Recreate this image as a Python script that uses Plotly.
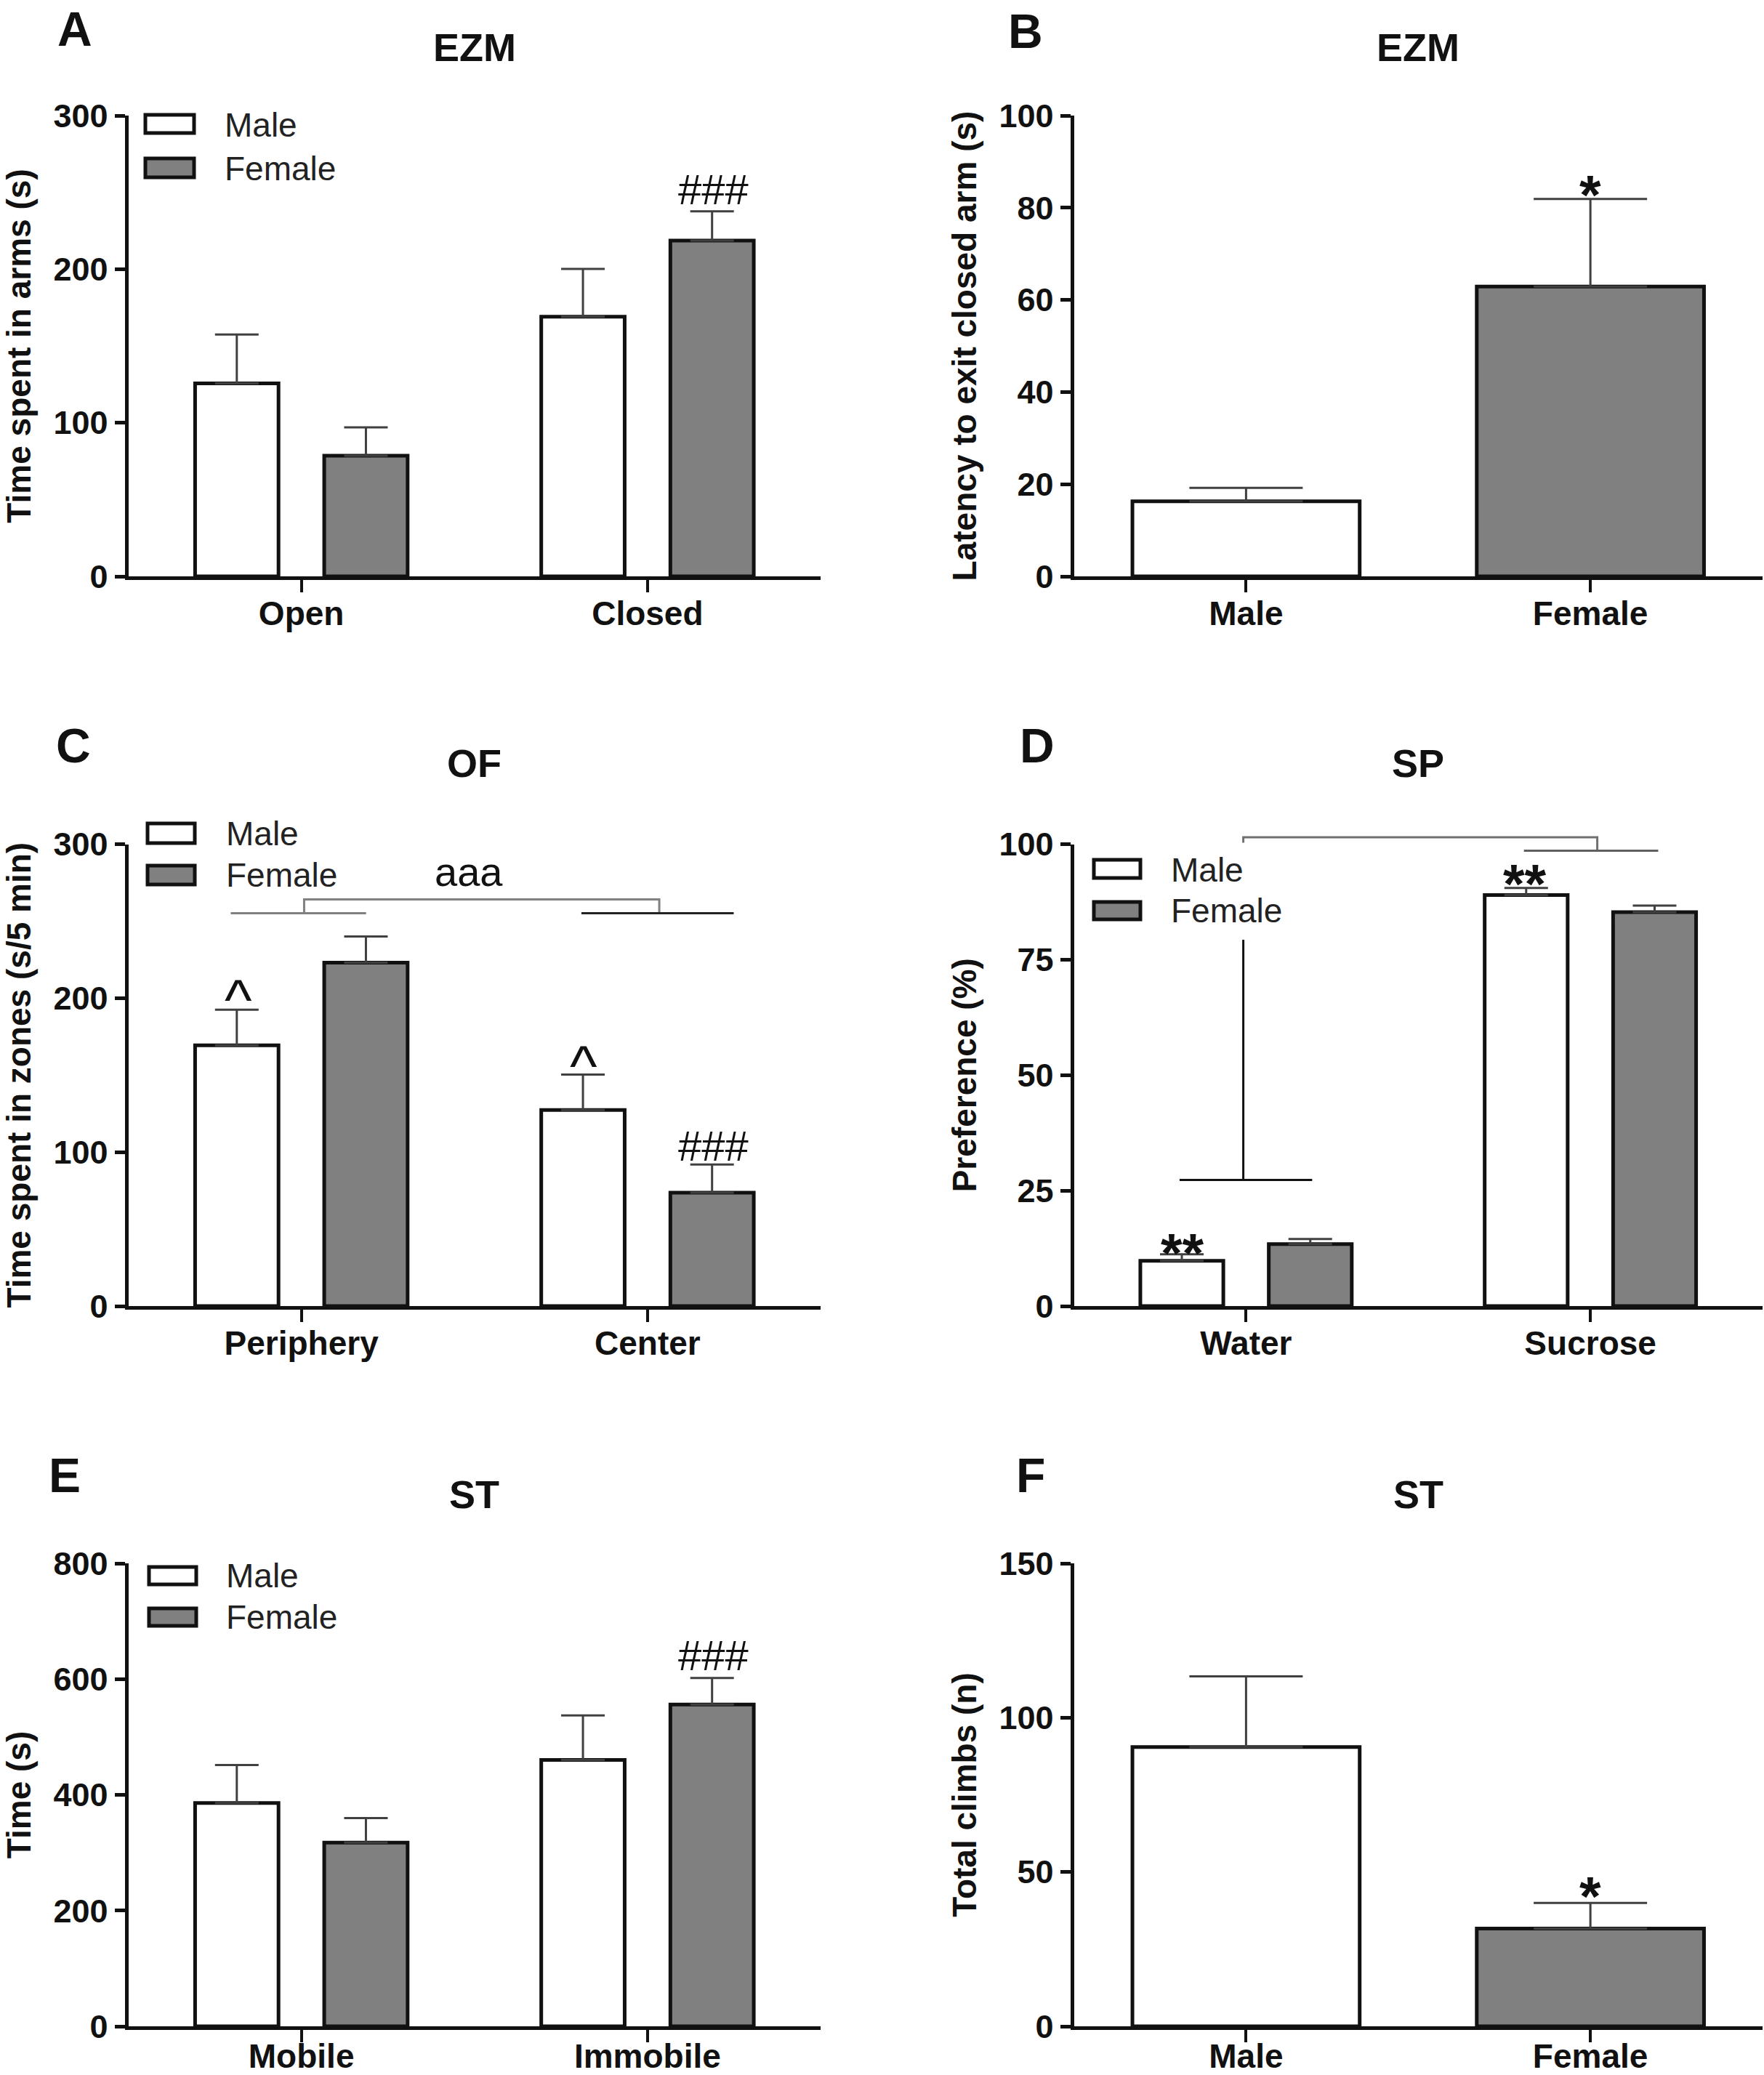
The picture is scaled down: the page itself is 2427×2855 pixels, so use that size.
import plotly.graph_objects as go

# ------------------------------------------------------------------ data
cat_A = ["Open", "Closed"]
male_A = [125.6, 169.0]
male_A_err = [31.8, 31.2]
female_A = [78.6, 218.6]
female_A_err = [18.4, 19.0]

cat_B = ["Male", "Female"]
val_B = [16.3, 62.9]
err_B = [2.9, 19.0]

cat_C = ["Periphery", "Center"]
male_C = [169.4, 127.3]
male_C_err = [23.1, 23.1]
female_C = [223.0, 73.7]
female_C_err = [17.1, 18.2]

cat_D = ["Water", "Sucrose"]
male_D = [9.8, 89.0]
male_D_err = [1.4, 1.5]
female_D = [13.4, 85.3]
female_D_err = [1.1, 1.4]

cat_E = ["Mobile", "Immobile"]
male_E = [385.9, 460.3]
male_E_err = [65.6, 76.8]
female_E = [317.5, 556.1]
female_E_err = [42.3, 45.8]

cat_F = ["Male", "Female"]
val_F = [90.5, 31.7]
err_F = [22.9, 8.3]

legend_labels = ["Male", "Female"]

# significance marks: (text, x position in category units, y value)
sig_A = [("###", 1.19, 252.0)]
sig_B = [("*", 1.0, 85.5)]
sig_C = [("^", -0.182, 205.8), ("^", 0.815, 162.6), ("###", 1.19, 104.2), ("aaa", 0.484, 279.6)]
sig_D = [("**", -0.185, 14.3), ("**", 0.81, 94.1), ("aaa", 0.52, 106.8)]
sig_E = [("###", 1.19, 641.4)]
sig_F = [("*", 1.0, 46.3)]

# comparison brackets: (x list, y list, colour)
brk_C = [
    ([-0.204, 0.187], [255.1, 255.1], "#808080"),
    ([0.008, 0.008, 1.034, 1.034], [255.1, 264.1, 264.1, 255.1], "#808080"),
    ([0.809, 1.249], [255.1, 255.1], "#222222"),
]
brk_D = [
    ([-0.008, -0.008, 1.02, 1.02], [100.3, 101.5, 101.5, 98.6], "#707070"),
    ([0.807, 1.197], [98.6, 98.6], "#606060"),
    ([-0.008, -0.008], [27.3, 79.3], "#111111"),
    ([-0.193, 0.192], [27.3, 27.3], "#111111"),
]

# ------------------------------------------------------------------ style
W, H = 2427, 2855
FONT = "Liberation Sans, Arial, Helvetica, sans-serif"
INK = "#111111"
GRAY = "#808080"
ERRC = "#404040"

col_x = [(176.5, 1129.0), (1477.5, 2425.0)]
row_y = [(159.0, 793.0), (1161.5, 1797.0), (2151.0, 2788.0)]


def px_x(p):
    return p / W


def px_y(p):
    return 1 - p / H


panels = [
    dict(n=1, col=0, row=0, cats=cat_A, grouped=True,
         series=[(male_A, male_A_err, "white"), (female_A, female_A_err, GRAY)],
         ytitle="Time spent in arms (s)", yr=[0, 300], dt=100, title="EZM",
         ty=64.6, letter="A", lxy=(103, 40), sig=sig_A, brk=[],
         legend=dict(sx=(200, 267), rows=[(158, 183, 172), (218, 244, 232)], tx=307)),
    dict(n=2, col=1, row=0, cats=cat_B, grouped=False,
         series=[(val_B, err_B, ["white", GRAY])],
         ytitle="Latency to exit closed arm (s)", yr=[0, 100], dt=20, title="EZM",
         ty=64.6, letter="B", lxy=(1411, 43), sig=sig_B, brk=[], legend=None),
    dict(n=3, col=0, row=1, cats=cat_C, grouped=True,
         series=[(male_C, male_C_err, "white"), (female_C, female_C_err, GRAY)],
         ytitle="Time spent in zones (s/5 min)", yr=[0, 300], dt=100, title="OF",
         ty=1050, letter="C", lxy=(101, 1026), sig=sig_C, brk=brk_C,
         legend=dict(sx=(203, 268), rows=[(1133, 1160, 1147), (1191, 1217, 1204)], tx=309)),
    dict(n=4, col=1, row=1, cats=cat_D, grouped=True,
         series=[(male_D, male_D_err, "white"), (female_D, female_D_err, GRAY)],
         ytitle="Preference (%)", yr=[0, 100], dt=25, title="SP",
         ty=1050, letter="D", lxy=(1427, 1026), sig=sig_D, brk=brk_D,
         legend=dict(sx=(1505, 1569), rows=[(1183, 1208, 1197), (1241, 1265, 1253)], tx=1609)),
    dict(n=5, col=0, row=2, cats=cat_E, grouped=True,
         series=[(male_E, male_E_err, "white"), (female_E, female_E_err, GRAY)],
         ytitle="Time (s)", yr=[0, 800], dt=200, title="ST",
         ty=2056, letter="E", lxy=(89, 2030), sig=sig_E, brk=[],
         legend=dict(sx=(205, 270), rows=[(2156, 2180, 2168), (2213, 2237, 2225)], tx=309)),
    dict(n=6, col=1, row=2, cats=cat_F, grouped=False,
         series=[(val_F, err_F, ["white", GRAY])],
         ytitle="Total climbs (n)", yr=[0, 150], dt=50, title="ST",
         ty=2056, letter="F", lxy=(1418, 2030), sig=sig_F, brk=[], legend=None),
]

sig_style = {
    "*": dict(size=76, yshift=-17, weight="bold"),
    "**": dict(size=76, yshift=-17, weight="bold"),
    "^": dict(size=80, yshift=-14, weight="normal"),
    "###": dict(size=58, yshift=0, weight="normal"),
    "aaa": dict(size=56, yshift=5, weight="normal"),
}

fig = go.Figure()
layout = {}
annotations = []
shapes = []

for p in panels:
    n = p["n"]
    sfx = "" if n == 1 else str(n)
    xref, yref = "x" + sfx, "y" + sfx
    xd = col_x[p["col"]]
    yd = row_y[p["row"]]
    xpos = list(range(len(p["cats"])))

    layout["xaxis" + sfx] = dict(
        domain=[px_x(xd[0]), px_x(xd[1])], anchor=yref,
        range=[-0.5, len(p["cats"]) - 0.5],
        tickmode="array", tickvals=xpos, ticktext=p["cats"],
        showline=True, linewidth=5, linecolor=INK,
        ticks="outside", ticklen=17, tickwidth=4, tickcolor=INK,
        showgrid=False, zeroline=False,
        ticklabelstandoff=-20 if p["row"] == 2 else -10,
        tickfont=dict(family=FONT, size=46, color=INK, weight="bold"),
        automargin=False,
    )
    layout["yaxis" + sfx] = dict(
        domain=[px_y(yd[1]), px_y(yd[0])], anchor=xref,
        range=p["yr"], tick0=0, dtick=p["dt"],
        showline=True, linewidth=5, linecolor=INK,
        ticks="outside", ticklen=14, tickwidth=5, tickcolor=INK,
        showgrid=False, zeroline=False, automargin=False,
        tickfont=dict(family=FONT, size=45, color=INK, weight="bold"),
        title=dict(text=p["ytitle"], standoff=18,
                   font=dict(family=FONT, size=46, color=INK, weight="bold")),
    )

    if p["grouped"]:
        offsets = [-0.307, 0.066]
        width, cap = 0.241, 30
    else:
        offsets = [-0.33]
        width, cap = 0.66, 78
    for (vals, errs, color), off in zip(p["series"], offsets):
        fig.add_trace(go.Bar(
            x=xpos, y=vals, width=width, offset=off,
            marker=dict(color=color, line=dict(color=INK, width=5)),
            error_y=dict(type="data", symmetric=False, array=errs,
                         arrayminus=[0] * len(errs), color=ERRC,
                         thickness=3, width=cap),
            showlegend=False, hoverinfo="skip", xaxis=xref, yaxis=yref,
        ))

    ymax = p["yr"][1]
    for bx, by, bc in p["brk"]:
        inside = all(v <= ymax for v in by)
        path = ""
        for i, (xx, yy) in enumerate(zip(bx, by)):
            yv = yy if inside else yy / ymax
            path += ("M" if i == 0 else "L") + f"{xx},{yv} "
        shapes.append(dict(type="path", path=path.strip(), xref=xref,
                           yref=yref if inside else yref + " domain",
                           line=dict(color=bc, width=3), layer="above"))

    for txt, sx, sy in p["sig"]:
        st = sig_style[txt]
        annotations.append(dict(
            text=txt, x=sx, y=sy, xref=xref, yref=yref, showarrow=False,
            xanchor="center", yanchor="middle", yshift=st["yshift"],
            font=dict(family=FONT, size=st["size"], color=INK, weight=st["weight"])))

    # panel title
    annotations.append(dict(
        text=p["title"], x=px_x((xd[0] + xd[1]) / 2), y=px_y(p["ty"]),
        xref="paper", yref="paper", showarrow=False,
        xanchor="center", yanchor="middle",
        font=dict(family=FONT, size=54, color=INK, weight="bold")))
    # panel letter
    annotations.append(dict(
        text=p["letter"], x=px_x(p["lxy"][0]), y=px_y(p["lxy"][1]),
        xref="paper", yref="paper", showarrow=False,
        xanchor="center", yanchor="middle",
        font=dict(family=FONT, size=66, color=INK, weight="bold")))

    # legend
    lg = p["legend"]
    if lg:
        for (y0, y1, ty), lab, fill in zip(lg["rows"], legend_labels, ["white", GRAY]):
            shapes.append(dict(type="rect", xref="paper", yref="paper",
                               x0=px_x(lg["sx"][0]), x1=px_x(lg["sx"][1]),
                               y0=px_y(y1), y1=px_y(y0),
                               fillcolor=fill, line=dict(color=INK, width=5)))
            annotations.append(dict(
                text=lab, x=px_x(lg["tx"]), y=px_y(ty), xref="paper", yref="paper",
                showarrow=False, xanchor="left", yanchor="middle",
                font=dict(family=FONT, size=46, color="#222222")))

fig.update_layout(
    width=W, height=H, autosize=False,
    margin=dict(l=0, r=0, t=0, b=0, pad=0, autoexpand=False),
    paper_bgcolor="white", plot_bgcolor="white",
    showlegend=False, barmode="overlay",
    font=dict(family=FONT, color=INK),
    annotations=annotations, shapes=shapes,
    **layout,
)

fig.write_html(
    "out.html",
    config={"displayModeBar": False, "staticPlot": True},
    post_script="document.body.style.margin='0px';document.body.style.overflow='hidden';",
)
